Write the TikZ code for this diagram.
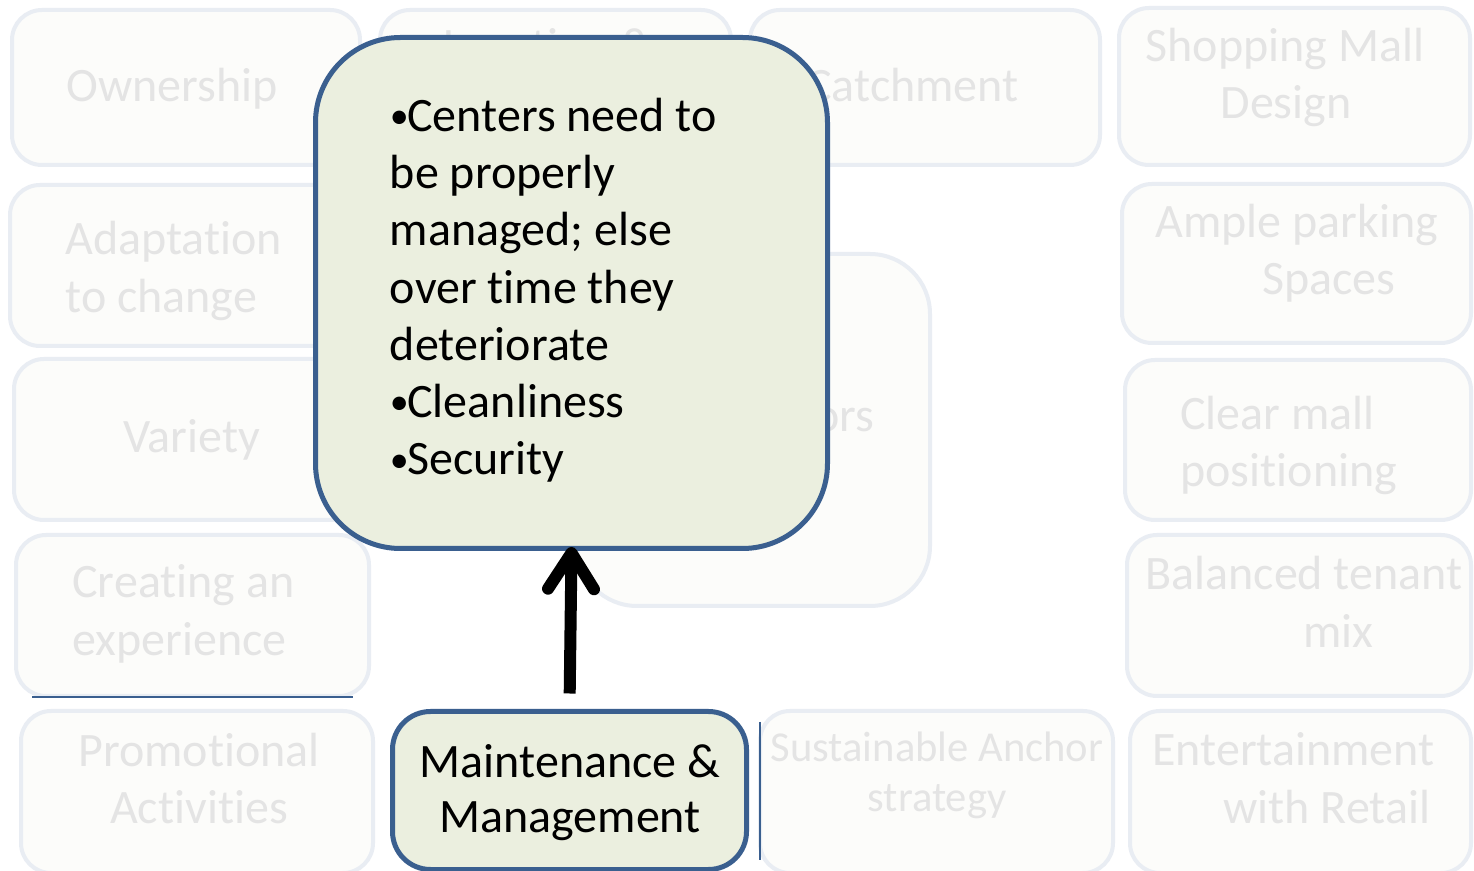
\documentclass[tikz,border=0pt]{standalone}
\usepackage{fontspec}
\setmainfont{Carlito}[Ligatures={NoCommon,NoRare,NoContextual}]
\usetikzlibrary{arrows.meta}
\definecolor{fborder}{RGB}{233,237,243}
\definecolor{ffill}{RGB}{252,252,250}
\definecolor{ftext}{RGB}{228,228,228}
\definecolor{mfill}{RGB}{235,239,223}
\definecolor{mborder}{RGB}{58,95,143}
\newcommand\fadedbox[5]{\node[fbox, minimum width=#4*0.5pt, minimum height=#5*0.5pt] (#1) at (#2,#3) {};}
\newcommand\fadedline[4]{\node[ftxt] (#1) at (#2,#3) {#4};}
\newcommand\bul{\makebox[8.75pt][l]{\raisebox{1.4pt}{\fontsize{19}{19}\selectfont •}}}
\begin{document}
\begin{tikzpicture}[x=0.5pt,y=-0.5pt,
  fbox/.style={draw=fborder, fill=ffill, line width=2pt, rounded corners=15pt, inner sep=0pt},
  ftxt/.style={text=ftext, anchor=base west, inner sep=0pt, font=\fontsize{24}{28.5}\selectfont},
  mbox/.style={draw=mborder, fill=mfill, line width=2.5pt, inner sep=0pt},
  mtxt/.style={text=black, inner sep=0pt},
  bigarrow/.style={line width=6pt, -{Straight Barb[length=18pt, width=23pt, round]}},
  glitch/.style={draw=mborder, line width=1pt}]
\path[use as bounding box, clip] (0,0) rectangle (1474,871);
\fill[white] (0,0) rectangle (1474,871);
% faded boxes
\fadedbox{own}{186}{87.5}{348}{155}
\fadedbox{loc}{555.5}{87.5}{351}{155}
\fadedbox{catch}{925}{87.5}{350}{155}
\fadedbox{shop}{1294.5}{86.5}{351}{157}
\fadedbox{adapt}{185}{265.5}{350}{161}
\fadedbox{ample}{1296.5}{263.5}{349}{159}
\fadedbox{var}{189}{439.5}{350}{161}
\fadedbox{clear}{1298}{440}{346}{160}
\fadedbox{creat}{192.5}{615.5}{353}{161}
\fadedbox{bal}{1299}{615.5}{344}{161}
\fadedbox{promo}{197}{792}{352}{162}
\fadedbox{sust}{936.5}{792}{353}{162}
\fadedbox{ent}{1300.5}{792}{341}{162}
\node[fbox, rounded corners=30pt, minimum width=176.5pt, minimum height=176pt] (sf) at (753.5,430) {};
% faded texts
\fadedline{own-t}{66}{102}{Ownership}
\node[ftxt, anchor=base] (loc-t) at (548,62) {Location \&};
\fadedline{catch-t}{806}{102}{Catchment}
\node[ftxt, anchor=base] (shop-t1) at (1285,62) {Shopping Mall};
\node[ftxt, anchor=base] (shop-t2) at (1286,119) {Design};
\fadedline{adapt-t1}{65}{255}{Adaptation}
\fadedline{adapt-t2}{65}{313}{to change}
\fadedline{ample-t1}{1155}{238}{Ample parking}
\fadedline{ample-t2}{1262}{295}{Spaces}
\fadedline{var-t}{123}{453}{Variety}
\fadedline{clear-t1}{1180}{430}{Clear mall}
\fadedline{clear-t2}{1180}{487}{positioning}
\fadedline{creat-t1}{72}{598}{Creating an}
\fadedline{creat-t2}{72}{655}{experience}
\fadedline{bal-t1}{1145}{590}{Balanced tenant}
\fadedline{bal-t2}{1303}{648}{mix}
\node[ftxt, anchor=base] (promo-t1) at (199,767) {Promotional};
\node[ftxt, anchor=base] (promo-t2) at (199,823) {Activities};
\node[ftxt, anchor=base, font=\fontsize{21.3}{25}\selectfont] (sust-t1) at (937,762) {Sustainable Anchor};
\node[ftxt, anchor=base, font=\fontsize{21.3}{25}\selectfont] (sust-t2) at (937,812) {strategy};
\fadedline{ent-t1}{1152}{765}{Entertainment}
\fadedline{ent-t2}{1223}{823}{with Retail}
\node[ftxt, anchor=base east] (sf-t) at (875,432) {Success Factors};
% glitch lines
\draw[glitch] (32,697) -- (353,697);
\draw[glitch] (760,722) -- (760,860);
% highlighted boxes
\node[mbox, rounded corners=42.5pt, minimum width=256pt, minimum height=255.5pt] (main) at (571.5,293) {};
\node[mtxt, anchor=base west, align=left, font=\fontsize{24}{28.65}\selectfont] (main-t) at (389.5,475)
  {\bul Centers need to\\be properly\\managed; else\\over time they\\deteriorate\\\bul Cleanliness\\\bul Security};
\node[mbox, rounded corners=19pt, minimum width=177pt, minimum height=79pt] (mm) at (569.5,790.5) {};
\node[mtxt, anchor=base, align=center, font=\fontsize{24}{27.5}\selectfont] (mm-t) at (570,832)
  {Maintenance \&\\Management};
% arrow
\draw[bigarrow, shorten <=7.75pt, shorten >=-2pt] (mm.north) -- (main.south);
\end{tikzpicture}
\end{document}
